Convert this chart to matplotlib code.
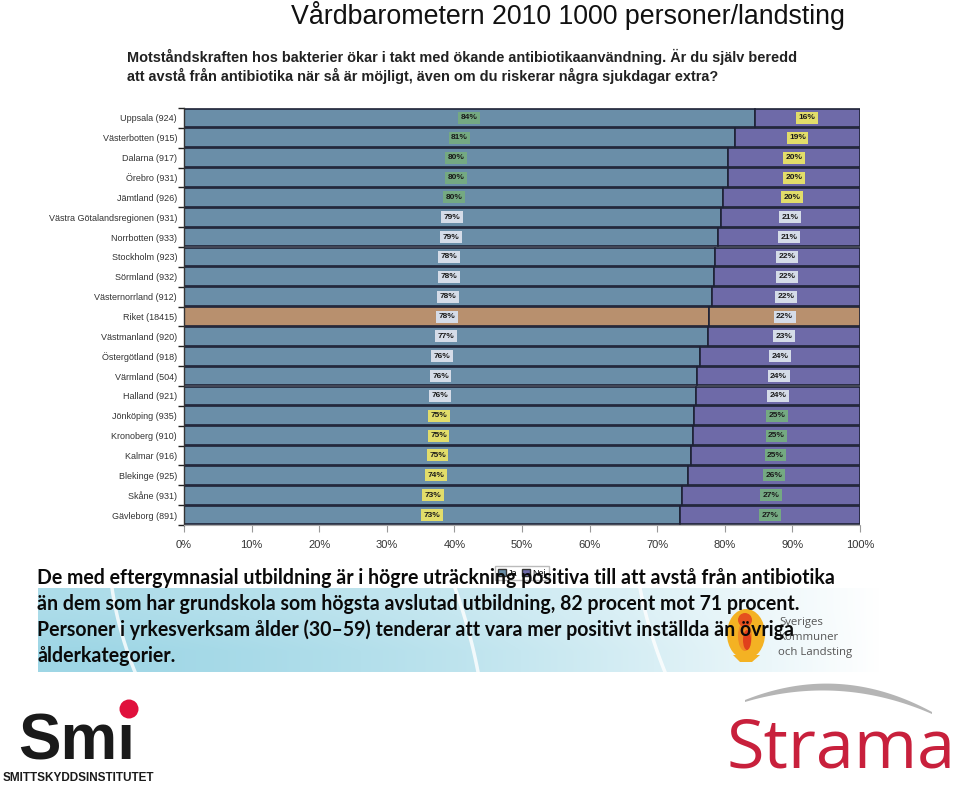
import matplotlib
matplotlib.use('Agg')
import matplotlib.pyplot as plt
import numpy as np
from matplotlib.patches import Circle, Polygon, Patch, Ellipse

# ---------------- data ----------------
regions = ["Uppsala", "Västerbotten", "Dalarna", "Örebro", "Jämtland",
           "Västra Götalandsregionen", "Norrbotten", "Stockholm", "Sörmland",
           "Västernorrland", "Riket", "Västmanland", "Östergötland", "Värmland",
           "Halland", "Jönköping", "Kronoberg", "Kalmar", "Blekinge", "Skåne",
           "Gävleborg"]
n_resp = [924, 915, 917, 931, 926, 931, 933, 923, 932, 912, 18415, 920, 918,
          504, 921, 935, 910, 916, 925, 931, 891]
ja = [84.4, 81.5, 80.5, 80.4, 79.8, 79.4, 79.0, 78.5, 78.4, 78.1, 77.7, 77.5,
      76.4, 75.9, 75.8, 75.5, 75.3, 75.0, 74.5, 73.6, 73.4]
ja_lbl = [84, 81, 80, 80, 80, 79, 79, 78, 78, 78, 78, 77, 76, 76, 76, 75, 75,
          75, 74, 73, 73]
nej_lbl = [16, 19, 20, 20, 20, 21, 21, 22, 22, 22, 22, 23, 24, 24, 24, 25, 25,
           25, 26, 27, 27]
xticks = [0, 10, 20, 30, 40, 50, 60, 70, 80, 90, 100]
series_names = ["Ja", "Nej"]

title = "Vårdbarometern 2010 1000 personer/landsting"
question = ["Motståndskraften hos bakterier ökar i takt med ökande antibiotikaanvändning. Är du själv beredd",
            "att avstå från antibiotika när så är möjligt, även om du riskerar några sjukdagar extra?"]
body = ["De med eftergymnasial utbildning är i högre uträckning positiva till att avstå från antibiotika",
        "än dem som har grundskola som högsta avslutad utbildning, 82 procent mot 71 procent.",
        "Personer i yrkesverksam ålder (30–59) tenderar att vara mer positivt inställda än övriga",
        "ålderkategorier."]

# ---------------- style ----------------
C_JA = "#6a8ea8"
C_NEJ = "#6e6aa8"
C_RIKET = "#b8906e"
C_EDGE = "#1e2236"
BOX_GREEN = "#74a982"
BOX_LIGHT = "#d5dce8"
BOX_YELLOW = "#e2dd6a"

W, H = 960, 785
fig = plt.figure(figsize=(W / 100, H / 100), dpi=100)
fig.patch.set_facecolor("white")

# ---------------- chart ----------------
ax = fig.add_axes([184 / W, 1 - 525 / H, 676 / W, 417 / H], zorder=2)
y = np.arange(len(regions))
ja_arr = np.array(ja)
nej_arr = 100 - ja_arr
ja_cols = [C_RIKET if r == "Riket" else C_JA for r in regions]
nej_cols = [C_RIKET if r == "Riket" else C_NEJ for r in regions]
ax.barh(y, ja_arr, height=0.94, color=ja_cols, edgecolor=C_EDGE, linewidth=1.2, zorder=2)
ax.barh(y, nej_arr, left=ja_arr, height=0.94, color=nej_cols, edgecolor=C_EDGE,
        linewidth=1.2, zorder=2)

def ja_box(v):
    if v >= 80:
        return BOX_GREEN
    if v >= 76:
        return BOX_LIGHT
    return BOX_YELLOW

def nej_box(v):
    if v <= 20:
        return BOX_YELLOW
    if v <= 24:
        return BOX_LIGHT
    return BOX_GREEN

for i in range(len(regions)):
    ax.text(ja_arr[i] / 2, y[i], f"{ja_lbl[i]}%", ha="center", va="center",
            fontsize=6, fontweight="bold", family="Liberation Sans", color="#1a1a1a",
            bbox=dict(boxstyle="square,pad=0.3", fc=ja_box(ja_lbl[i]), ec="none"), zorder=4)
    ax.text(ja_arr[i] + nej_arr[i] / 2, y[i], f"{nej_lbl[i]}%", ha="center", va="center",
            fontsize=6, fontweight="bold", family="Liberation Sans", color="#1a1a1a",
            bbox=dict(boxstyle="square,pad=0.3", fc=nej_box(nej_lbl[i]), ec="none"), zorder=4)

ax.set_xlim(0, 100)
ax.set_ylim(len(regions) - 0.5, -0.5)
ax.set_yticks(y)
ax.set_yticklabels([f"{r} ({n})" for r, n in zip(regions, n_resp)],
                   fontsize=6.5, family="Liberation Sans", color="#333333")
ax.set_yticks(np.arange(len(regions) + 1) - 0.5, minor=True)
ax.tick_params(axis="y", which="major", length=0, pad=5)
ax.tick_params(axis="y", which="minor", length=4, width=1, color="#222222", direction="out")
ax.set_xticks(xticks)
ax.set_xticklabels([f"{t}%" for t in xticks], fontsize=8, family="Liberation Sans",
                   color="#333333")
ax.tick_params(axis="x", length=5, color="#999999", pad=6)
for s in ["top", "right"]:
    ax.spines[s].set_visible(False)
ax.spines["left"].set_color("#333333")
ax.spines["left"].set_linewidth(1.0)
ax.spines["bottom"].set_color("#aaaaaa")

handles = [Patch(fc=C_JA, ec="#333"), Patch(fc=C_NEJ, ec="#333")]
leg = fig.legend(handles, series_names, loc="center", bbox_to_anchor=(522 / W, 1 - 573 / H),
                 ncol=2, handlelength=0.9, handleheight=0.9, handletextpad=0.25,
                 columnspacing=0.5, borderpad=0.3, frameon=True, fancybox=False,
                 edgecolor="#aaaaaa", prop={"family": "Liberation Sans", "size": 6.5})

# ---------------- decoration layer (pixel coordinates) ----------------
deco = fig.add_axes([0, 0, 1, 1], zorder=10)
deco.patch.set_alpha(0)
deco.axis("off")

# gradient band behind body text
nx = 400
t = np.linspace(0, 1, nx)
c0 = np.array([0.62, 0.84, 0.90])
c1 = np.array([1.0, 1.0, 1.0])
mix = np.clip(t ** 1.6, 0, 1)[:, None]
row = c0 * (1 - mix) + c1 * mix
grad = np.stack([row * 0.85 + 0.15, row], axis=0)
deco.imshow(grad, extent=[38, 880, 672, 588], aspect="auto", interpolation="bilinear", zorder=1)
# white decorative curves
for x0, x1, xm in [(112, 135, 118), (455, 478, 470), (640, 665, 648)]:
    ts = np.linspace(0, 1, 40)
    xs = (1 - ts) ** 2 * x0 + 2 * (1 - ts) * ts * xm + ts ** 2 * x1
    ys = 588 + ts * 84
    deco.plot(xs, ys, color="white", lw=2.5, alpha=0.8, zorder=2)

deco.set_xlim(0, W)
deco.set_ylim(H, 0)

renderer = fig.canvas.get_renderer()

def fit_text(x, yv, s, width, **kw):
    txt = deco.text(x, yv, s, fontsize=10, **kw)
    bb = txt.get_window_extent(renderer=renderer)
    txt.set_fontsize(10 * width / bb.width)
    return txt

# title
fit_text(291, 15, title, 557, ha="left", va="center", family="Liberation Sans",
         color="#111111")
# question
qt = fit_text(127, 57, question[0], 670, ha="left", va="center", fontweight="bold",
              family="Liberation Sans", color="#222222")
deco.text(127, 76, question[1], ha="left", va="center", fontsize=qt.get_fontsize(),
          fontweight="bold", family="Liberation Sans", color="#222222")

# SKL logo (under the body text)
deco.add_patch(Ellipse((746, 634), 38, 50, fc="#f4b223", ec="none", zorder=3))
deco.add_patch(Polygon([[733, 655], [760, 655], [752, 662], [740, 662]], fc="#f4b223", ec="none", zorder=3))
deco.add_patch(Ellipse((745, 636), 14, 30, fc="#f08a24", ec="none", zorder=3))
deco.add_patch(Circle((745, 620), 7, fc="#e5501e", ec="none", zorder=4))
deco.add_patch(Ellipse((747, 640), 8, 20, fc="#e0401c", ec="none", zorder=4))
skl_font = dict(family="Open Sans", color="#555555", ha="left", va="baseline", zorder=4)
deco.text(779, 625, "Sveriges", fontsize=8.2, **skl_font)
deco.text(779, 640, "Kommuner", fontsize=8.2, **skl_font)
deco.text(778, 655, "och Landsting", fontsize=8.2, **skl_font)

# body text
bt = fit_text(37, 584, body[0], 796, ha="left", va="baseline", fontweight="bold",
              family=["Lato", "DejaVu Sans"], color="#0a0a0a", zorder=6)
for k, yy in zip(range(1, 4), [610, 636, 662]):
    deco.text(37, yy, body[k], ha="left", va="baseline", fontsize=bt.get_fontsize(),
              fontweight="bold", family=["Lato", "DejaVu Sans"], color="#0a0a0a", zorder=6)

# Smi logo
fit_text(18, 760, "Smı", 117, ha="left", va="baseline", fontweight="bold",
         family="Liberation Sans", color="#1a1a1a", zorder=5)
deco.add_patch(Circle((129, 709), 9.5, fc="#e0103c", ec="none", zorder=5))
fit_text(3, 781, "SMITTSKYDDSINSTITUTET", 151, ha="left", va="baseline", fontweight="bold",
         family="Liberation Sans", color="#1a1a1a", zorder=5)

# Strama logo
ts = np.linspace(0, 1, 60)
top_x = (1 - ts) ** 2 * 745 + 2 * (1 - ts) * ts * 840 + ts ** 2 * 932
top_y = (1 - ts) ** 2 * 700 + 2 * (1 - ts) * ts * 662 + ts ** 2 * 712
bot_y = (1 - ts) ** 2 * 702 + 2 * (1 - ts) * ts * 674 + ts ** 2 * 714
arc_pts = np.concatenate([np.column_stack([top_x, top_y]),
                          np.column_stack([top_x[::-1], bot_y[::-1]])])
deco.add_patch(Polygon(arc_pts, fc="#b5b5b5", ec="none", zorder=5))
fit_text(726, 768, "Strama", 229, ha="left", va="baseline", family="Open Sans",
         color="#c8203c", zorder=5)

deco.set_xlim(0, W)
deco.set_ylim(H, 0)

fig.savefig("out.png", dpi=100, facecolor="white")
